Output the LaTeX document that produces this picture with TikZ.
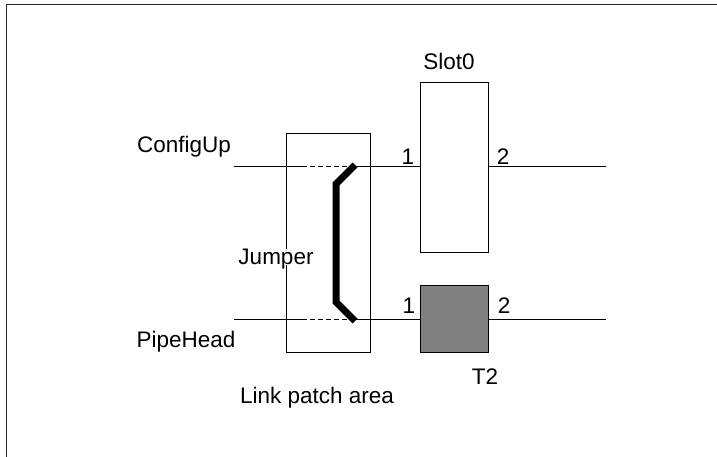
\documentclass[tikz,border=0pt]{standalone}
\usepackage{fontspec}
\setmainfont{Liberation Sans}
\tikzset{
  lbl/.style={font=\fontsize{22.5}{27}\selectfont, inner sep=0pt},
  unitbox/.style={draw, line width=1pt, minimum width=68pt, inner sep=0pt},
  wire/.style={line width=1pt},
}
\begin{document}
\begin{tikzpicture}[x=1pt,y=-1pt]
\useasboundingbox (0,0) rectangle (717,457);
\draw[line width=1.6pt, black!85] (6.5,4.5) rectangle (740,480);

\node[unitbox, minimum height=169pt] (slot) at (454,167.5) {};
\node[unitbox, minimum height=67pt, fill=gray] (tt) at (454,318.5) {};
\node[draw, line width=1pt, minimum width=84pt, minimum height=218pt, inner sep=0pt] (patch) at (328,243) {};

\coordinate (cuin) at (234,167);
\coordinate (cudash) at (302,167);
\coordinate (cujmp) at (352,167);
\coordinate (cuout) at (606,167);
\coordinate (phin) at (234,319);
\coordinate (phdash) at (302,319);
\coordinate (phjmp) at (352,319);
\coordinate (phout) at (606,319);

\draw[wire] (cuin) -- (cudash);
\draw[wire, dash pattern=on 5pt off 3pt] (cudash) -- (cujmp);
\draw[wire] (cujmp) -- (slot.west |- cujmp);
\draw[wire] (slot.east |- cuout) -- (cuout);
\draw[wire] (phin) -- (phdash);
\draw[wire, dash pattern=on 5pt off 3pt] (phdash) -- (phjmp);
\draw[wire] (phjmp) -- (tt.west |- phjmp);
\draw[wire] (tt.east |- phout) -- (phout);

% jumper
\draw[line width=7pt, miter limit=10] (355,165) -- (336,184) -- (336,302) -- (355,321);

\node[lbl] (slotname) at (449,61) {Slot0};
\node[lbl] (ttname) at (485,377) {T2};
\node[lbl] (cfg) at (184,147) {ConfigUp};
\node[lbl] (pipe) at (186,342) {PipeHead};
\node[lbl, fill=white, text depth=0pt] (jmp) at (276,257) {Jumper};
\node[lbl] (area) at (317,398) {Link patch area};
\node[lbl] (sa) at (408,157) {1};
\node[lbl] (sb) at (503,157) {2};
\node[lbl] (ta) at (409,306) {1};
\node[lbl] (tb) at (504,306) {2};
\end{tikzpicture}
\end{document}
